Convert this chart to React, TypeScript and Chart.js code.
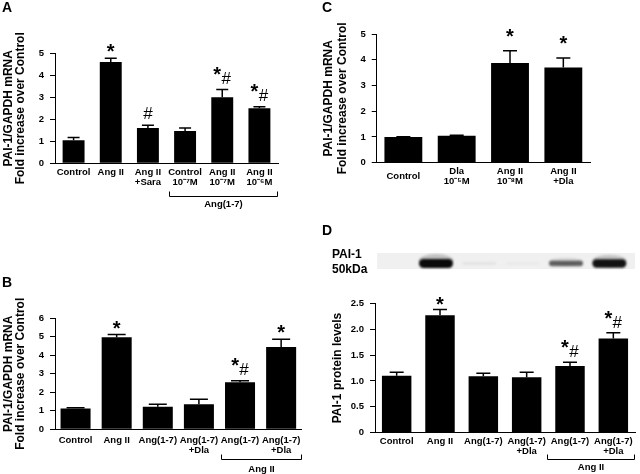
import React, { useEffect, useRef } from "react";
import { Chart, registerables } from "chart.js";

Chart.register(...registerables);

const FONT = "'Liberation Sans', Arial, Helvetica, sans-serif";

// ---------- Panel A ----------
const catsA = [["Control"], ["Ang II"], ["Ang II", "+Sara"], ["Control", "10⁻⁷M"], ["Ang II", "10⁻⁷M"], ["Ang II", "10⁻⁶M"]];
const valsA = [1.05, 4.6, 1.6, 1.47, 3.0, 2.5];
const errA = [0.12, 0.17, 0.13, 0.13, 0.35, 0.07];
const sigA = ["", "*", "#", "", "*#", "*#"];
const titleA = ["PAI-1/GAPDH mRNA", "Fold increase over Control"];

// ---------- Panel B ----------
const catsB = [["Control"], ["Ang II"], ["Ang(1-7)"], ["Ang(1-7)", "+Dla"], ["Ang(1-7)"], ["Ang(1-7)", "+Dla"]];
const valsB = [1.12, 4.97, 1.22, 1.35, 2.55, 4.45];
const errB = [0.05, 0.15, 0.13, 0.27, 0.07, 0.42];
const sigB = ["", "*", "", "", "*#", "*"];
const titleB = ["PAI-1/GAPDH mRNA", "Fold increase over Control"];

// ---------- Panel C ----------
const catsC = [["Control"], ["Dla", "10⁻⁵M"], ["Ang II", "10⁻⁸M"], ["Ang II", "+Dla"]];
const valsC = [1.0, 1.05, 3.87, 3.7];
const errC = [0.01, 0.02, 0.48, 0.37];
const sigC = ["", "", "*", "*"];
const titleC = ["PAI-1/GAPDH mRNA", "Fold increase over Control"];

// ---------- Panel D ----------
const catsD = [["Control"], ["Ang II"], ["Ang(1-7)"], ["Ang(1-7)", "+Dla"], ["Ang(1-7)"], ["Ang(1-7)", "+Dla"]];
const valsD = [1.1, 2.27, 1.09, 1.07, 1.29, 1.82];
const errD = [0.07, 0.11, 0.06, 0.1, 0.07, 0.11];
const sigD = ["", "*", "", "", "*#", "*#"];
const blotD = [0, 1, 0.04, 0.02, 0.5, 0.9];
const titleD = ["PAI-1 protein levels"];

type Panel = {
  letter: string;
  pos: { x: number; y: number; w: number; h: number };
  area: { l: number; r: number; t: number; b: number };
  letterPos: [number, number];
  cats: string[][];
  vals: number[];
  errs: number[];
  sigs: string[];
  yMax: number;
  yStep: number;
  tickFmt?: (v: number) => string;
  title: string[];
  titleLH: number;
  titlePad: number;
  barPct: number;
  capW: number;
  sigGap: number;
  xPad: number;
  crossAlign: "near" | "center";
  bracket?: { start: number; text: string; frac: number; dy: number; labelDy: number };
  blot?: number[];
};

const panels: Panel[] = [
  {
    letter: "A",
    pos: { x: 0, y: 0, w: 320, h: 240 },
    area: { l: 55, r: 278, t: 53.3, b: 163.3 },
    letterPos: [2, 12],
    cats: catsA, vals: valsA, errs: errA, sigs: sigA,
    yMax: 5, yStep: 1,
    title: titleA, titleLH: 1.0, titlePad: 2.3,
    barPct: 0.59, capW: 12, sigGap: 6, xPad: 4.4, crossAlign: "near",
    bracket: { start: 3, text: "Ang(1-7)", frac: 0.42, dy: 32.7, labelDy: 7.5 },
  },
  {
    letter: "C",
    pos: { x: 320, y: 0, w: 320, h: 222 },
    area: { l: 56.7, r: 270, t: 34, b: 162.7 },
    letterPos: [2, 12],
    cats: catsC, vals: valsC, errs: errC, sigs: sigC,
    yMax: 5, yStep: 1,
    title: titleC, titleLH: 1.12, titlePad: 2.3,
    barPct: 0.71, capW: 14, sigGap: 14, xPad: 9, crossAlign: "center",
  },
  {
    letter: "B",
    pos: { x: 0, y: 240, w: 320, h: 234 },
    area: { l: 55, r: 301.7, t: 78.3, b: 189.3 },
    letterPos: [2, 47],
    cats: catsB, vals: valsB, errs: errB, sigs: sigB,
    yMax: 6, yStep: 1,
    title: titleB, titleLH: 1.0, titlePad: 2.3,
    barPct: 0.73, capW: 18, sigGap: 6, xPad: 5.7, crossAlign: "near",
    bracket: { start: 4, text: "Ang II", frac: 0.46, dy: 30, labelDy: 9.7 },
  },
  {
    letter: "D",
    pos: { x: 320, y: 222, w: 320, h: 252 },
    area: { l: 55, r: 315, t: 81.3, b: 210.7 },
    letterPos: [2, 13],
    cats: catsD, vals: valsD, errs: errD, sigs: sigD,
    yMax: 2.5, yStep: 0.5,
    tickFmt: (v: number) => (v === 0 ? "0" : v.toFixed(1)),
    title: titleD, titleLH: 1.0, titlePad: 11.5,
    barPct: 0.68, capW: 14, sigGap: 5, xPad: 4, crossAlign: "near",
    bracket: { start: 4, text: "Ang II", frac: 0.52, dy: 26.3, labelDy: 7.7 },
    blot: blotD,
  },
];

function inkText(ctx: CanvasRenderingContext2D, s: string, font: string, cx: number, bottom: number) {
  ctx.font = font;
  ctx.textAlign = "center";
  ctx.textBaseline = "alphabetic";
  const m = ctx.measureText(s);
  const base = bottom - m.actualBoundingBoxDescent;
  ctx.fillText(s, cx, base);
  return { top: base - m.actualBoundingBoxAscent, bottom };
}

function drawSig(ctx: CanvasRenderingContext2D, s: string, cx: number, bottom: number) {
  const starFont = `bold 20px ${FONT}`;
  const hashFont = `17px ${FONT}`;
  ctx.fillStyle = "#000";
  if (s === "*") {
    inkText(ctx, "*", starFont, cx, bottom);
  } else if (s === "#") {
    inkText(ctx, "#", hashFont, cx, bottom);
  } else {
    const h = inkText(ctx, "#", hashFont, cx + 4, bottom);
    ctx.font = starFont;
    const m = ctx.measureText("*");
    const starH = m.actualBoundingBoxAscent + m.actualBoundingBoxDescent;
    inkText(ctx, "*", starFont, cx - 5, h.top - 5 + starH);
  }
}

function decoPlugin(p: Panel) {
  return {
    id: "deco" + p.letter,
    afterDatasetsDraw(chart: any) {
      const ctx: CanvasRenderingContext2D = chart.ctx;
      const y = chart.scales.y;
      const meta = chart.getDatasetMeta(0);
      ctx.save();
      meta.data.forEach((bar: any, i: number) => {
        const v = p.vals[i];
        const e = p.errs[i];
        const yBar = y.getPixelForValue(v);
        const yTop = y.getPixelForValue(v + e);
        ctx.strokeStyle = "#000";
        ctx.lineWidth = 1.5;
        ctx.beginPath();
        ctx.moveTo(bar.x, yBar);
        ctx.lineTo(bar.x, yTop);
        ctx.moveTo(bar.x - p.capW / 2, yTop);
        ctx.lineTo(bar.x + p.capW / 2, yTop);
        ctx.stroke();
        if (p.sigs[i]) drawSig(ctx, p.sigs[i], bar.x, yTop - p.sigGap);
      });
      ctx.restore();
    },
    afterDraw(chart: any) {
      const ctx: CanvasRenderingContext2D = chart.ctx;
      const x = chart.scales.x;
      const ca = chart.chartArea;
      ctx.save();
      ctx.fillStyle = "#000";
      ctx.strokeStyle = "#000";
      // panel letter
      ctx.font = `bold 14px ${FONT}`;
      ctx.textAlign = "left";
      ctx.textBaseline = "alphabetic";
      ctx.fillText(p.letter, p.letterPos[0], p.letterPos[1]);
      // bracket
      if (p.bracket) {
        const b = p.bracket;
        const cw = (ca.right - ca.left) / p.cats.length;
        const xl = Math.round(x.getPixelForValue(b.start) - b.frac * cw) + 0.5;
        const xr = Math.round(ca.right - 1) + 0.5;
        const yb = Math.round(ca.bottom + b.dy) + 0.5;
        ctx.lineWidth = 1;
        ctx.beginPath();
        ctx.moveTo(xl, yb - 5);
        ctx.lineTo(xl, yb);
        ctx.lineTo(xr, yb);
        ctx.lineTo(xr, yb - 5);
        ctx.stroke();
        ctx.font = `bold 9.5px ${FONT}`;
        ctx.textAlign = "center";
        ctx.textBaseline = "middle";
        ctx.fillText(b.text, (xl + xr) / 2, yb + b.labelDy);
      }
      // western blot strip
      if (p.blot) {
        const top = 31;
        const bottom = 47;
        const left = ca.left + 2;
        const right = ca.right;
        ctx.fillStyle = "#f0f0f0";
        ctx.fillRect(left, top, right - left, bottom - top);
        ctx.filter = "blur(1px)";
        p.blot.forEach((v, i) => {
          if (v <= 0) return;
          const cx = x.getPixelForValue(i) - 4;
          const w = 34;
          const h = 2 + 7 * v;
          const cy = 41.5;
          if (v > 0.2) {
            ctx.fillStyle = `rgba(0,0,0,${0.2 * v})`;
            ctx.beginPath();
            ctx.ellipse(cx, cy - h * 0.35, w / 2, h * 0.7, 0, 0, Math.PI * 2);
            ctx.fill();
          }
          ctx.fillStyle = `rgba(10,10,10,${Math.min(1, v < 0.2 ? v * 1.5 : 0.15 + 0.9 * v)})`;
          ctx.beginPath();
          if ((ctx as any).roundRect) {
            (ctx as any).roundRect(cx - w / 2, cy - h / 2, w, h, h / 2);
          } else {
            ctx.rect(cx - w / 2, cy - h / 2, w, h);
          }
          ctx.fill();
        });
        ctx.filter = "none";
        ctx.fillStyle = "#000";
        ctx.font = `bold 12px ${FONT}`;
        ctx.textAlign = "left";
        ctx.textBaseline = "alphabetic";
        ctx.fillText("PAI-1", 12, 36);
        ctx.fillText("50kDa", 12, 50.5);
      }
      ctx.restore();
    },
  };
}

function PanelChart({ p }: { p: Panel }) {
  const ref = useRef<HTMLCanvasElement | null>(null);
  useEffect(() => {
    if (!ref.current) return;
    const { w, h } = p.pos;
    const a = p.area;
    const chart = new Chart(ref.current, {
      type: "bar",
      data: {
        labels: p.cats as any,
        datasets: [
          {
            data: p.vals,
            backgroundColor: "#000",
            borderWidth: 0,
            barPercentage: p.barPct,
            categoryPercentage: 1,
          },
        ],
      },
      options: {
        animation: false,
        responsive: false,
        maintainAspectRatio: false,
        devicePixelRatio: 1,
        layout: { padding: { left: 0, top: a.t, right: w - a.r, bottom: 0 } },
        plugins: { legend: { display: false }, tooltip: { enabled: false } },
        scales: {
          x: {
            grid: { display: false, drawTicks: false },
            border: { display: true, color: "#000", width: 1 },
            ticks: {
              color: "#000",
              font: { family: FONT, size: 9.5, weight: "bold", lineHeight: 1.05 },
              padding: p.xPad,
              autoSkip: false,
              maxRotation: 0,
              minRotation: 0,
              crossAlign: p.crossAlign,
            },
            afterFit: (s: any) => {
              s.height = h - a.b;
            },
          },
          y: {
            min: 0,
            max: p.yMax,
            ticks: {
              stepSize: p.yStep,
              color: "#000",
              font: { family: FONT, size: 9.5, weight: "bold" },
              padding: 6,
              callback: (v: any) => (p.tickFmt ? p.tickFmt(Number(v)) : String(v)),
            },
            grid: { drawOnChartArea: false, drawTicks: true, tickLength: 5, color: "#000" },
            border: { display: true, color: "#000", width: 1 },
            title: {
              display: true,
              text: p.title,
              color: "#000",
              font: { family: FONT, size: 12, weight: "bold", lineHeight: p.titleLH },
              padding: { top: p.titlePad, bottom: 0 },
            },
            afterFit: (s: any) => {
              s.width = a.l;
            },
          },
        },
      } as any,
      plugins: [decoPlugin(p)],
    });
    return () => chart.destroy();
  }, [p]);
  return (
    <canvas
      ref={ref}
      width={p.pos.w}
      height={p.pos.h}
      style={{ position: "absolute", left: p.pos.x, top: p.pos.y, width: p.pos.w, height: p.pos.h }}
    />
  );
}

export default function App() {
  return (
    <div style={{ position: "absolute", left: 0, top: 0, width: 640, height: 474, background: "#fff", overflow: "hidden" }}>
      {panels.map((p) => (
        <PanelChart key={p.letter} p={p} />
      ))}
    </div>
  );
}
